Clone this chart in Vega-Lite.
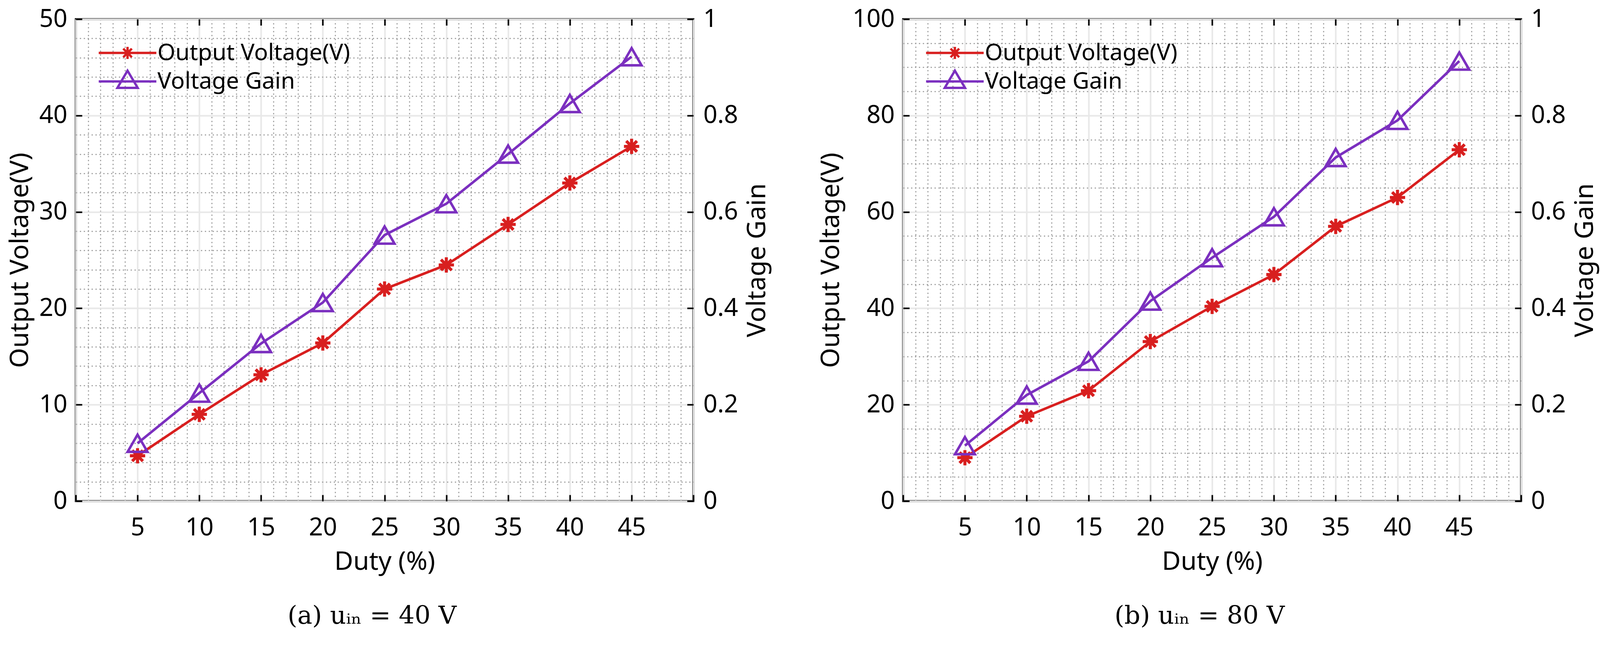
{
  "$schema": "https://vega.github.io/schema/vega-lite/v6.json",
  "background": "white",
  "padding": {"left": 16, "top": 15, "right": 20, "bottom": 20},
  "datasets": {
    "a": [
      {"duty": 5, "vout": 4.7, "gain": 0.12},
      {"duty": 10, "vout": 9.0, "gain": 0.224},
      {"duty": 15, "vout": 13.1, "gain": 0.327},
      {"duty": 20, "vout": 16.4, "gain": 0.412},
      {"duty": 25, "vout": 22.0, "gain": 0.552},
      {"duty": 30, "vout": 24.5, "gain": 0.617},
      {"duty": 35, "vout": 28.7, "gain": 0.72},
      {"duty": 40, "vout": 33.0, "gain": 0.825},
      {"duty": 45, "vout": 36.8, "gain": 0.922}
    ],
    "b": [
      {"duty": 5, "vout": 9.0, "gain": 0.115},
      {"duty": 10, "vout": 17.6, "gain": 0.22},
      {"duty": 15, "vout": 22.9, "gain": 0.29},
      {"duty": 20, "vout": 33.1, "gain": 0.415},
      {"duty": 25, "vout": 40.4, "gain": 0.505},
      {"duty": 30, "vout": 47.0, "gain": 0.59},
      {"duty": 35, "vout": 57.0, "gain": 0.713},
      {"duty": 40, "vout": 63.0, "gain": 0.79},
      {"duty": 45, "vout": 72.9, "gain": 0.913}
    ]
  },
  "hconcat": [
    {
      "width": 1581,
      "height": 1234,
      "data": {"name": "a"},
      "title": {"text": "(a) uᵢₙ = 40 V", "orient": "bottom", "anchor": "middle", "frame": "group", "dx": -32, "font": "DejaVu Serif", "fontSize": 64, "fontWeight": "normal", "color": "black", "offset": 75},
      "layer": [
        {
          "mark": {"type": "line", "strokeWidth": 6.4, "point": {"shape": "M0,-1V1M-1,0H1M-0.7,-0.7L0.7,0.7M-0.7,0.7L0.7,-0.7", "size": 1530, "filled": false, "strokeWidth": 7.8}},
          "encoding": {
            "x": {"field": "duty", "type": "quantitative", "scale": {"domain": [0, 50], "nice": false},
              "axis": {"orient": "bottom", "title": "Duty (%)",
                "values": [0,1,2,3,4,5,6,7,8,9,10,11,12,13,14,15,16,17,18,19,20,21,22,23,24,25,26,27,28,29,30,31,32,33,34,35,36,37,38,39,40,41,42,43,44,45,46,47,48,49,50],
                "labelExpr": "datum.value % 5 === 0 && datum.value > 0 && datum.value < 50 ? datum.label : ''",
                "domain": false, "tickSize": -16, "tickWidth": 4, "tickColor": "black",
                "tickOpacity": {"condition": {"test": "datum.value % 5 === 0", "value": 1}, "value": 0},
                "grid": true,
                "gridColor": {"condition": {"test": "datum.value % 5 === 0", "value": "#e8e8e8"}, "value": "#9e9e9e"},
                "gridDash": {"condition": {"test": "datum.value % 5 === 0", "value": []}, "value": [3, 7]},
                "gridWidth": {"condition": {"test": "datum.value % 5 === 0", "value": 4}, "value": 3},
                "labelFont": "Noto Sans", "labelFontSize": 63, "labelColor": "black", "labelPadding": 53, "labelOverlap": false, "labelFlush": false,
                "titleFont": "Noto Sans", "titleFontSize": 66, "titleFontWeight": "normal", "titleColor": "black", "titlePadding": 23}},
            "y": {"field": "vout", "type": "quantitative", "scale": {"domain": [0, 50], "nice": false},
              "axis": {"orient": "left", "title": "Output Voltage(V)",
                "values": [0,2,4,6,8,10,12,14,16,18,20,22,24,26,28,30,32,34,36,38,40,42,44,46,48,50],
                "labelExpr": "datum.value % 10 === 0 ? datum.label : ''",
                "domain": false, "tickSize": -16, "tickWidth": 4, "tickColor": "black",
                "tickOpacity": {"condition": {"test": "datum.value % 10 === 0", "value": 1}, "value": 0},
                "grid": true,
                "gridColor": {"condition": {"test": "datum.value % 10 === 0", "value": "#e8e8e8"}, "value": "#9e9e9e"},
                "gridDash": {"condition": {"test": "datum.value % 10 === 0", "value": []}, "value": [3, 7]},
                "gridWidth": {"condition": {"test": "datum.value % 10 === 0", "value": 4}, "value": 3},
                "labelFont": "Noto Sans", "labelFontSize": 63, "labelColor": "black", "labelPadding": 38, "labelOverlap": false, "labelFlush": false,
                "titleFont": "Noto Sans", "titleFontSize": 66, "titleFontWeight": "normal", "titleColor": "black", "titlePadding": 14}},
            "color": {"datum": "Output Voltage(V)", "type": "nominal",
              "scale": {"domain": ["Output Voltage(V)"], "range": ["#d81f1f"]},
              "legend": {"orient": "none", "legendX": 103, "legendY": 57, "title": null, "padding": 0,
                "symbolType": "M-2.95,0H2.95M0,-0.62V0.62M-0.62,0H0.62M-0.44,-0.44L0.44,0.44M-0.44,0.44L0.44,-0.44",
                "symbolSize": 2500, "symbolStrokeWidth": 6, "labelOffset": 47, "labelLimit": 0,
                "labelFont": "Noto Sans", "labelFontSize": 59, "labelColor": "black"}}
          }
        },
        {
          "mark": {"type": "line", "strokeWidth": 6.4, "point": {"shape": "triangle-up", "size": 2586, "filled": false, "strokeWidth": 6.4}},
          "encoding": {
            "x": {"field": "duty", "type": "quantitative", "scale": {"domain": [0, 50], "nice": false},
              "axis": {"orient": "top", "title": null, "values": [5,10,15,20,25,30,35,40,45], "labels": false, "grid": false, "domain": false,
                "tickSize": -16, "tickWidth": 4, "tickColor": "black"}},
            "y": {"field": "gain", "type": "quantitative", "scale": {"domain": [0, 1], "nice": false},
              "axis": {"orient": "right", "title": "Voltage Gain", "titleAngle": 270, "titleBaseline": "top",
                "values": [0, 0.2, 0.4, 0.6, 0.8, 1], "format": "~g", "grid": false, "domain": false,
                "tickSize": -16, "tickWidth": 4, "tickColor": "black",
                "labelFont": "Noto Sans", "labelFontSize": 63, "labelColor": "black", "labelPadding": 41, "labelOverlap": false, "labelFlush": false,
                "titleFont": "Noto Sans", "titleFontSize": 66, "titleFontWeight": "normal", "titleColor": "black", "titlePadding": 18}},
            "color": {"datum": "Voltage Gain", "type": "nominal",
              "scale": {"domain": ["Voltage Gain"], "range": ["#7b2fbf"]},
              "legend": {"orient": "none", "legendX": 103, "legendY": 130, "title": null, "padding": 0,
                "symbolType": "M-2.95,0H2.95M0,-1.1L1.04,0.66L-1.04,0.66Z",
                "symbolSize": 2500, "symbolStrokeWidth": 6, "labelOffset": 47, "labelLimit": 0,
                "labelFont": "Noto Sans", "labelFontSize": 59, "labelColor": "black"}}
          }
        }
      ],
      "resolve": {"scale": {"y": "independent", "color": "independent"}}
    },
    {
      "width": 1582,
      "height": 1234,
      "data": {"name": "b"},
      "title": {"text": "(b) uᵢₙ = 80 V", "orient": "bottom", "anchor": "middle", "frame": "group", "dx": -32, "font": "DejaVu Serif", "fontSize": 64, "fontWeight": "normal", "color": "black", "offset": 75},
      "layer": [
        {
          "mark": {"type": "line", "strokeWidth": 6.4, "point": {"shape": "M0,-1V1M-1,0H1M-0.7,-0.7L0.7,0.7M-0.7,0.7L0.7,-0.7", "size": 1530, "filled": false, "strokeWidth": 7.8}},
          "encoding": {
            "x": {"field": "duty", "type": "quantitative", "scale": {"domain": [0, 50], "nice": false},
              "axis": {"orient": "bottom", "title": "Duty (%)",
                "values": [0,1,2,3,4,5,6,7,8,9,10,11,12,13,14,15,16,17,18,19,20,21,22,23,24,25,26,27,28,29,30,31,32,33,34,35,36,37,38,39,40,41,42,43,44,45,46,47,48,49,50],
                "labelExpr": "datum.value % 5 === 0 && datum.value > 0 && datum.value < 50 ? datum.label : ''",
                "domain": false, "tickSize": -16, "tickWidth": 4, "tickColor": "black",
                "tickOpacity": {"condition": {"test": "datum.value % 5 === 0", "value": 1}, "value": 0},
                "grid": true,
                "gridColor": {"condition": {"test": "datum.value % 5 === 0", "value": "#e8e8e8"}, "value": "#9e9e9e"},
                "gridDash": {"condition": {"test": "datum.value % 5 === 0", "value": []}, "value": [3, 7]},
                "gridWidth": {"condition": {"test": "datum.value % 5 === 0", "value": 4}, "value": 3},
                "labelFont": "Noto Sans", "labelFontSize": 63, "labelColor": "black", "labelPadding": 53, "labelOverlap": false, "labelFlush": false,
                "titleFont": "Noto Sans", "titleFontSize": 66, "titleFontWeight": "normal", "titleColor": "black", "titlePadding": 23}},
            "y": {"field": "vout", "type": "quantitative", "scale": {"domain": [0, 100], "nice": false},
              "axis": {"orient": "left", "title": "Output Voltage(V)",
                "values": [0,5,10,15,20,25,30,35,40,45,50,55,60,65,70,75,80,85,90,95,100],
                "labelExpr": "datum.value % 20 === 0 ? datum.label : ''",
                "domain": false, "tickSize": -16, "tickWidth": 4, "tickColor": "black",
                "tickOpacity": {"condition": {"test": "datum.value % 20 === 0", "value": 1}, "value": 0},
                "grid": true,
                "gridColor": {"condition": {"test": "datum.value % 20 === 0", "value": "#e8e8e8"}, "value": "#9e9e9e"},
                "gridDash": {"condition": {"test": "datum.value % 20 === 0", "value": []}, "value": [3, 7]},
                "gridWidth": {"condition": {"test": "datum.value % 20 === 0", "value": 4}, "value": 3},
                "labelFont": "Noto Sans", "labelFontSize": 63, "labelColor": "black", "labelPadding": 38, "labelOverlap": false, "labelFlush": false,
                "titleFont": "Noto Sans", "titleFontSize": 66, "titleFontWeight": "normal", "titleColor": "black", "titlePadding": 20}},
            "color": {"datum": "Output Voltage(V)", "type": "nominal",
              "scale": {"domain": ["Output Voltage(V)"], "range": ["#d81f1f"]},
              "legend": {"orient": "none", "legendX": 103, "legendY": 57, "title": null, "padding": 0,
                "symbolType": "M-2.95,0H2.95M0,-0.62V0.62M-0.62,0H0.62M-0.44,-0.44L0.44,0.44M-0.44,0.44L0.44,-0.44",
                "symbolSize": 2500, "symbolStrokeWidth": 6, "labelOffset": 47, "labelLimit": 0,
                "labelFont": "Noto Sans", "labelFontSize": 59, "labelColor": "black"}}
          }
        },
        {
          "mark": {"type": "line", "strokeWidth": 6.4, "point": {"shape": "triangle-up", "size": 2586, "filled": false, "strokeWidth": 6.4}},
          "encoding": {
            "x": {"field": "duty", "type": "quantitative", "scale": {"domain": [0, 50], "nice": false},
              "axis": {"orient": "top", "title": null, "values": [5,10,15,20,25,30,35,40,45], "labels": false, "grid": false, "domain": false,
                "tickSize": -16, "tickWidth": 4, "tickColor": "black"}},
            "y": {"field": "gain", "type": "quantitative", "scale": {"domain": [0, 1], "nice": false},
              "axis": {"orient": "right", "title": "Voltage Gain", "titleAngle": 270, "titleBaseline": "top",
                "values": [0, 0.2, 0.4, 0.6, 0.8, 1], "format": "~g", "grid": false, "domain": false,
                "tickSize": -16, "tickWidth": 4, "tickColor": "black",
                "labelFont": "Noto Sans", "labelFontSize": 63, "labelColor": "black", "labelPadding": 41, "labelOverlap": false, "labelFlush": false,
                "titleFont": "Noto Sans", "titleFontSize": 66, "titleFontWeight": "normal", "titleColor": "black", "titlePadding": 18}},
            "color": {"datum": "Voltage Gain", "type": "nominal",
              "scale": {"domain": ["Voltage Gain"], "range": ["#7b2fbf"]},
              "legend": {"orient": "none", "legendX": 103, "legendY": 130, "title": null, "padding": 0,
                "symbolType": "M-2.95,0H2.95M0,-1.1L1.04,0.66L-1.04,0.66Z",
                "symbolSize": 2500, "symbolStrokeWidth": 6, "labelOffset": 47, "labelLimit": 0,
                "labelFont": "Noto Sans", "labelFontSize": 59, "labelColor": "black"}}
          }
        }
      ],
      "resolve": {"scale": {"y": "independent", "color": "independent"}}
    }
  ],
  "spacing": 117,
  "config": {
    "view": {"stroke": "black", "strokeWidth": 5}
  }
}
